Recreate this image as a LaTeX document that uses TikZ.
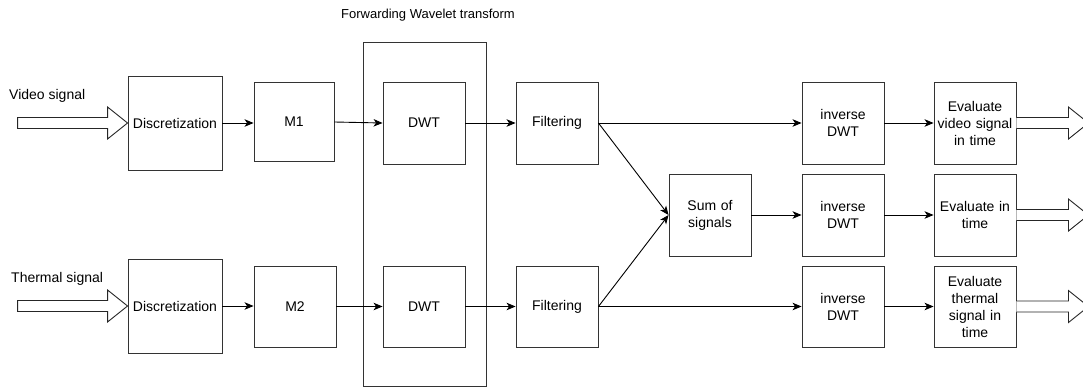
\documentclass[tikz,border=0pt]{standalone}
\usepackage{fontspec}
\setmainfont{Liberation Sans}
\usetikzlibrary{arrows.meta,calc}
\begin{document}
\begin{tikzpicture}[x=1pt,y=-1pt,
  box/.style={draw=black!80,line width=0.9pt,inner sep=0pt,align=center,minimum width=82pt,minimum height=82pt,text width=80pt,font=\fontsize{14}{17}\selectfont},
  lbl/.style={inner sep=0pt,font=\fontsize{14}{17}\selectfont},
  conn/.style={line width=0.9pt,-{Stealth[length=9pt,width=7.5pt,inset=2.5pt]}},
  hollow/.style={draw=black!85,line width=0.9pt,fill=white,line join=miter}]
\useasboundingbox (0,0) rectangle (1083,388);
% labels
\node[lbl,anchor=west] (vlab) at (9,96) {Video signal};
\node[lbl,anchor=west] (tlab) at (11,279) {Thermal signal};
\node[lbl,font=\fontsize{13}{16}\selectfont] (title) at (428,15) {Forwarding Wavelet transform};
% wavelet frame
\node[box,minimum width=123pt,minimum height=344pt,text width=] (frame) at (424.5,214) {};
% boxes
\node[box,minimum width=94pt,minimum height=94pt,text width=92pt] (d1) at (175,123) {Discretization};
\node[box,minimum width=94pt,minimum height=94pt,text width=92pt] (d2) at (175,306) {Discretization};
\node[box,minimum width=80pt,minimum height=79pt] (m1) at (294,122) {M1};
\node[box,minimum height=81pt] (m2) at (295,306.5) {M2};
\node[box] (w1) at (424,123) {DWT};
\node[box,minimum height=81pt] (w2) at (424,306.5) {DWT};
\node[box] (f1) at (557,123) {Filtering};
\node[box,minimum height=81pt] (f2) at (557,306.5) {Filtering};
\node[box] (sum) at (710,215) {Sum of\\signals};
\node[box] (i1) at (843,123) {inverse\\DWT};
\node[box] (i2) at (843,215) {inverse\\DWT};
\node[box,minimum height=81pt] (i3) at (843,306.5) {inverse\\DWT};
\node[box] (e1) at (975,123) {Evaluate\\video signal\\in time};
\node[box] (e2) at (975,215) {Evaluate in\\time};
\node[box,minimum height=81pt] (e3) at (975,306.5) {Evaluate\\thermal\\signal in\\time};
% connectors
\draw[conn] (d1.east) -- (m1.west |- d1.east);
\draw[conn] (d2.east) -- (m2.west |- d2.east);
\draw[conn] (m1.east) -- (w1.west);
\draw[conn] (m2.east) -- (w2.west);
\draw[conn] (w1.east) -- (f1.west);
\draw[conn] (w2.east) -- (f2.west);
\draw[conn] (f1.east) -- (i1.west);
\draw[conn] (f2.east) -- (i3.west);
\draw[conn] (f1.east) -- (sum.west);
\draw[conn] (f2.east) -- (sum.west);
\draw[conn] (sum.east) -- (i2.west);
\draw[conn] (i1.east) -- (e1.west);
\draw[conn] (i2.east) -- (e2.west);
\draw[conn] (i3.east) -- (e3.west);
% hollow input arrows
\foreach \n in {d1,d2}{
  \draw[hollow] ($(\n.west)+(-110,-5.5)$) -- ($(\n.west)+(-20,-5.5)$) -- ($(\n.west)+(-20,-16)$)
    -- (\n.west) -- ($(\n.west)+(-20,16)$) -- ($(\n.west)+(-20,5.5)$) -- ($(\n.west)+(-110,5.5)$) -- cycle;
}
% hollow output arrows
\foreach \n in {e1,e2,e3}{
  \draw[hollow] ($(\n.east)+(0,-5.5)$) -- ($(\n.east)+(52,-5.5)$) -- ($(\n.east)+(52,-16)$)
    -- ($(\n.east)+(72,0)$) -- ($(\n.east)+(52,16)$) -- ($(\n.east)+(52,5.5)$) -- ($(\n.east)+(0,5.5)$);
}
\end{tikzpicture}
\end{document}
